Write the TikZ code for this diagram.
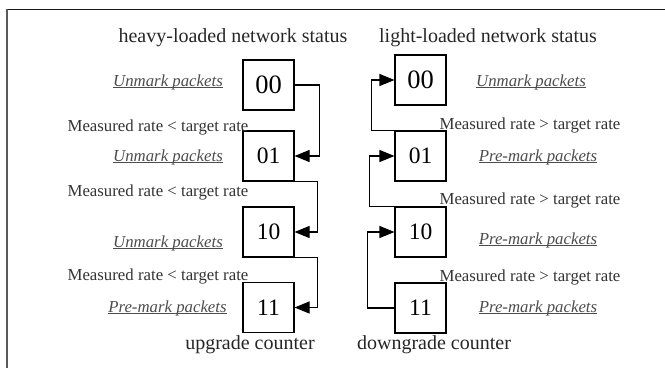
\documentclass[tikz,border=0pt]{standalone}
\usepackage{fontspec}
\setmainfont{Liberation Serif}
\usetikzlibrary{arrows.meta}
\newcommand\myul[1]{\setbox0\hbox{#1}\rlap{\rule[-2bp]{\wd0}{0.8bp}}\box0}
\tikzset{
  stbox/.style={draw, line width=1.1bp, minimum width=51bp, minimum height=50bp, inner sep=0pt},
  big/.style={font=\fontsize{26.5bp}{28bp}\selectfont},
  mid/.style={font=\fontsize{23.5bp}{25bp}\selectfont},
  head/.style={font=\fontsize{20bp}{22bp}\selectfont, text=black!85, inner sep=0pt},
  cond/.style={font=\fontsize{16.8bp}{18bp}\selectfont, text=black!80, inner sep=0pt},
  act/.style={font=\fontsize{16.8bp}{18bp}\selectfont\itshape, text=black!70, inner sep=0pt},
  arr/.style={line width=1.1bp, -{Triangle[length=15bp,width=12bp]}},
}
\begin{document}
\begin{tikzpicture}[x=1bp,y=-1bp]
\useasboundingbox (0,0) rectangle (665,368);
% frame
\draw[line width=1.6bp, black!90] (6,9.5) -- (665,9.5);
\draw[line width=2bp, black!65] (7,9) -- (7,368);
% headings
\node[head] (th) at (233,38) {heavy-loaded network status};
\node[head] (tl) at (488,38) {light-loaded network status};
\node[head] (bu) at (250,345) {upgrade counter};
\node[head] (bd) at (434,345) {downgrade counter};
% left boxes
\node[stbox,big] (h00) at (268.5,85) {00};
\node[stbox,mid] (h01) at (268.5,156) {01};
\node[stbox,mid] (h10) at (268.5,232) {10};
\node[stbox,mid] (h11) at (268.5,307.5) {11};
% right boxes
\node[stbox,big] (l00) at (420.5,80) {00};
\node[stbox,mid] (l01) at (420.5,156) {01};
\node[stbox,mid] (l10) at (420.5,232) {10};
\node[stbox,mid] (l11) at (420.5,308) {11};
% left labels
\node[act] (ha0) at (168,82) {\myul{Unmark packets}};
\node[cond] (hc1) at (158,127) {Measured rate < target rate};
\node[act] (ha1) at (168,157) {\myul{Unmark packets}};
\node[cond] (hc2) at (158,192) {Measured rate < target rate};
\node[act] (ha2) at (168,243) {\myul{Unmark packets}};
\node[cond] (hc3) at (158,276) {Measured rate < target rate};
\node[act] (ha3) at (167.5,308) {\myul{Pre-mark packets}};
% right labels
\node[act] (la0) at (531,82) {\myul{Unmark packets}};
\node[cond] (lc1) at (530,125) {Measured rate > target rate};
\node[act] (la1) at (538,157) {\myul{Pre-mark packets}};
\node[cond] (lc2) at (530,200) {Measured rate > target rate};
\node[act] (la2) at (538,240) {\myul{Pre-mark packets}};
\node[cond] (lc3) at (530,277) {Measured rate > target rate};
\node[act] (la3) at (538,308) {\myul{Pre-mark packets}};
% left connectors
\draw[arr] (h00.east) -- ++(25,0) |- (h01.east);
\draw[arr] (h01.south east) -- ++(23,0) |- (h10.east);
\draw[arr] (h10.south east) -- ++(23,0) |- (h11.east);
% right connectors
\draw[arr] (l01.north west) -- ++(-23,0) |- (l00.west);
\draw[arr] (l10.north west) -- ++(-25,0) |- (l01.west);
\draw[arr] (l11.west) -- ++(-27,0) |- (l10.west);
\end{tikzpicture}
\end{document}
